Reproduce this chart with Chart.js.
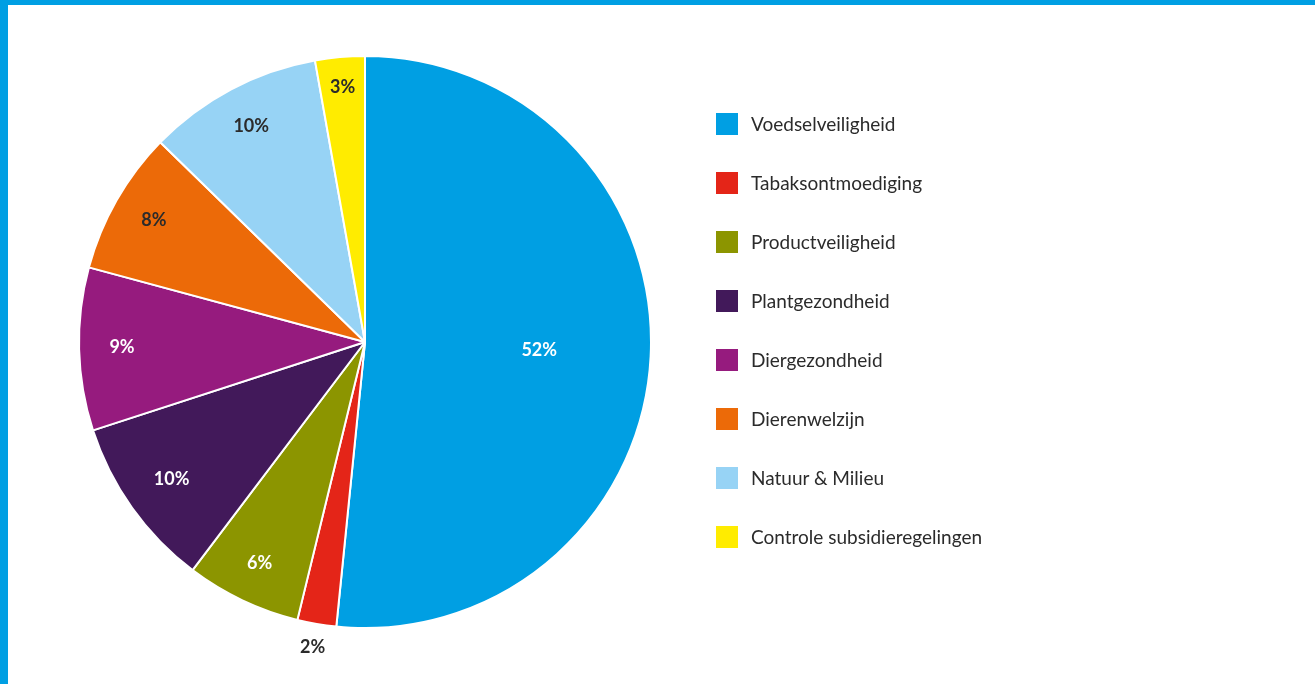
<!DOCTYPE html>
<html>
<head>
<meta charset="utf-8">
<script src="https://cdn.jsdelivr.net/npm/chart.js@4"></script>
<style>
  html, body { margin: 0; padding: 0; background: #fff; }
  body { width: 1315px; height: 684px; position: relative; overflow: hidden; }
  .frame-top { position: absolute; left: 0; top: 0; width: 1315px; height: 5px; background: #009FE3; }
  .frame-left { position: absolute; left: 0; top: 0; width: 8px; height: 684px; background: #009FE3; }
  #wrap { position: absolute; left: 0; top: 0; width: 730px; height: 684px; }
  #legend { position: absolute; left: 716px; top: 113px; font-family: Lato, "Open Sans", sans-serif; font-size: 19px; color: #2b2b2b; }
  .item { position: absolute; left: 0; height: 22px; white-space: nowrap; }
  .box { position: absolute; left: 0; top: 0; width: 22px; height: 22px; }
  .txt { position: absolute; left: 35px; top: 0; line-height: 22px; }
</style>
</head>
<body>
<div class="frame-top"></div>
<div class="frame-left"></div>
<div id="wrap"><canvas id="c"></canvas></div>
<div id="legend"></div>
<script>
const categories = ["Voedselveiligheid", "Tabaksontmoediging", "Productveiligheid", "Plantgezondheid", "Diergezondheid", "Dierenwelzijn", "Natuur & Milieu", "Controle subsidieregelingen"];
const values = [51.6, 2.2, 6.5, 9.7, 9.2, 8.1, 9.9, 2.8];
const valueLabels = ["52%", "2%", "6%", "10%", "9%", "8%", "10%", "3%"];
const colors = ["#009FE3", "#E42518", "#8C9500", "#42195A", "#961B7E", "#EC6A08", "#97D3F5", "#FFEC00"];
const labelColors = ["#ffffff", "#2b2b2b", "#ffffff", "#ffffff", "#ffffff", "#2b2b2b", "#2b2b2b", "#2b2b2b"];
const labelRadius = [0.61, 1.085, 0.86, 0.83, 0.85, 0.85, 0.85, 0.89];

const labelPlugin = {
  id: 'sliceLabels',
  afterDatasetsDraw(chart) {
    const ctx = chart.ctx;
    const meta = chart.getDatasetMeta(0);
    ctx.save();
    ctx.font = 'bold 18px Lato, "Open Sans", sans-serif';
    ctx.textAlign = 'center';
    ctx.textBaseline = 'middle';
    meta.data.forEach((arc, i) => {
      const p = arc.getProps(['x', 'y', 'startAngle', 'endAngle', 'outerRadius'], true);
      const mid = (p.startAngle + p.endAngle) / 2;
      const r = p.outerRadius * labelRadius[i];
      ctx.fillStyle = labelColors[i];
      ctx.fillText(valueLabels[i], p.x + Math.cos(mid) * r, p.y + Math.sin(mid) * r - 1);
    });
    ctx.restore();
  }
};

new Chart(document.getElementById('c'), {
  type: 'pie',
  data: {
    labels: categories,
    datasets: [{ data: values, backgroundColor: colors, borderColor: '#ffffff', borderWidth: 2 }]
  },
  options: {
    responsive: true,
    maintainAspectRatio: false,
    animation: false,
    radius: 286,
    layout: { padding: 0 },
    plugins: { legend: { display: false }, tooltip: { enabled: false } }
  },
  plugins: [labelPlugin]
});

const legend = document.getElementById('legend');
categories.forEach((name, i) => {
  const item = document.createElement('div');
  item.className = 'item';
  item.style.top = (i * 59) + 'px';
  const box = document.createElement('div');
  box.className = 'box';
  box.style.background = colors[i];
  const txt = document.createElement('div');
  txt.className = 'txt';
  txt.textContent = name;
  item.appendChild(box);
  item.appendChild(txt);
  legend.appendChild(item);
});
</script>
</body>
</html>
